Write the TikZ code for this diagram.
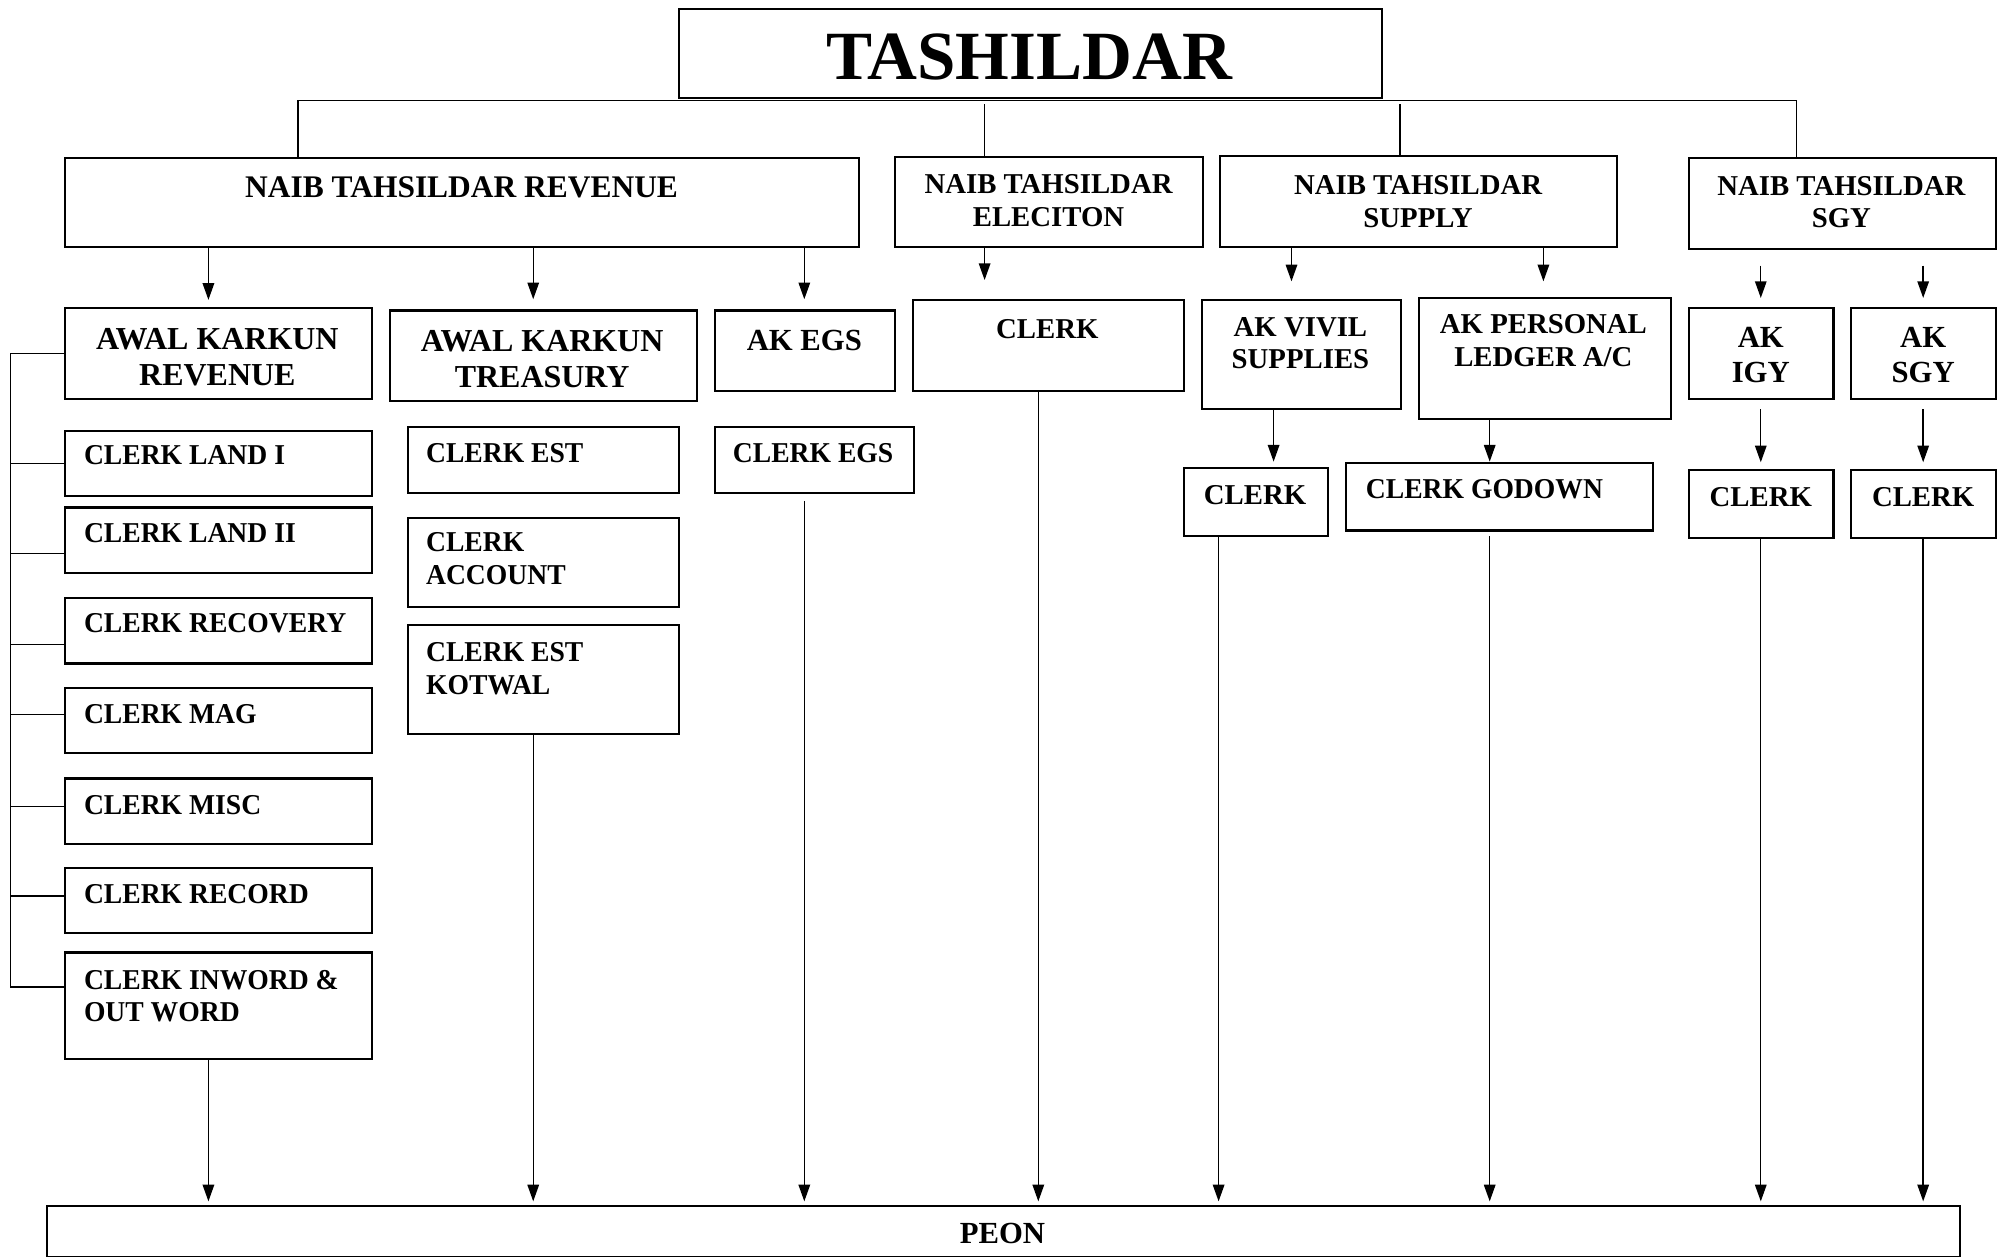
\documentclass[tikz,border=0pt]{standalone}
\usepackage{fontspec}
\setmainfont{Liberation Serif}
\newfontfamily\clfont[FakeStretch=0.96]{Liberation Serif}
\usetikzlibrary{arrows.meta}
\tikzset{
  bx/.style={draw, line width=1.7pt, inner sep=0pt, anchor=north west},
  tx/.style={inner sep=0pt, font=\fontsize{22.5}{25.5}\selectfont\bfseries},
  txl/.style={inner sep=0pt, font=\fontsize{22.5}{25.5}\selectfont\clfont\bfseries},
  txb/.style={inner sep=0pt, font=\fontsize{24}{27.5}\selectfont\bfseries},
  txw/.style={inner sep=0pt, font=\fontsize{25}{27.5}\selectfont\bfseries},
  ctr/.style={anchor=north, align=center},
  lft/.style={anchor=north west, align=left},
  ln/.style={line width=1.1pt},
  arr/.style={line width=1.1pt, -{Triangle[length=13pt,width=9pt]}},
}
\newcommand\mkbox[5]{\node[bx, minimum width=#4-#2, minimum height=#5-#3] (#1) at (#2,#3) {};}
\begin{document}
\begin{tikzpicture}[x=1pt,y=-1pt]
\useasboundingbox (0,0) rectangle (1568,983);
% boxes
\mkbox{tash}{530}{6}{1080}{76}
\mkbox{ntrev}{50}{123}{671}{192}
\mkbox{ntel}{699}{122}{940}{192}
\mkbox{ntsup}{953}{121}{1264}{192}
\mkbox{ntsgy}{1320}{123}{1560}{194}
\mkbox{akrev}{50}{240}{290}{311}
\mkbox{aktre}{304}{242}{544}{313}
\mkbox{akegs}{558}{242}{699}{305}
\mkbox{clel}{713}{234}{925}{305}
\mkbox{akviv}{939}{234}{1095}{319}
\mkbox{akper}{1109}{232}{1306}{327}
\mkbox{akigy}{1320}{240}{1433}{311}
\mkbox{aksgy}{1447}{240}{1560}{311}
\mkbox{cla}{50}{336}{290}{387}
\mkbox{clb}{50}{396}{290}{447}
\mkbox{clc}{50}{467}{290}{518}
\mkbox{cld}{50}{537}{290}{588}
\mkbox{cle}{50}{608}{290}{659}
\mkbox{clf}{50}{678}{290}{729}
\mkbox{clg}{50}{744}{290}{827}
\mkbox{cea}{318}{333}{530}{385}
\mkbox{ceb}{318}{404}{530}{474}
\mkbox{cec}{318}{488}{530}{573}
\mkbox{cegs}{558}{333}{714}{385}
\mkbox{clviv}{925}{365}{1038}{418}
\mkbox{clgod}{1052}{361}{1292}{414}
\mkbox{cligy}{1320}{367}{1433}{420}
\mkbox{clsgy}{1447}{367}{1560}{420}
\mkbox{peon}{36}{942}{1532}{982}
% texts
\node[inner sep=0pt, anchor=north, font=\fontsize{54}{60}\selectfont\bfseries] (ttash) at (805,26) {TASHILDAR};
\node[inner sep=0pt, anchor=north, font=\fontsize{24.6}{28}\selectfont\bfseries] (tntrev) at (361,138) {NAIB TAHSILDAR REVENUE};
\node[tx,ctr] (tntel) at (820,136.5) {NAIB TAHSILDAR\\ELECITON};
\node[tx,ctr] (tntsup) at (1109,137) {NAIB TAHSILDAR\\SUPPLY};
\node[tx,ctr] (tntsgy) at (1440,137.5) {NAIB TAHSILDAR\\SGY};
\node[txw,ctr] (takrev) at (170,257) {AWAL KARKUN\\REVENUE};
\node[txw,ctr] (taktre) at (424,258.5) {AWAL KARKUN\\TREASURY};
\node[txb,ctr] (takegs) at (629,258) {AK EGS};
\node[tx,ctr] (tclel) at (819,249.5) {CLERK};
\node[tx,ctr] (takviv) at (1017,248) {AK VIVIL\\SUPPLIES};
\node[tx,ctr] (takper) at (1207,246) {AK PERSONAL\\LEDGER A/C};
\node[txb,ctr] (takigy) at (1377,255.5) {AK\\IGY};
\node[txb,ctr] (taksgy) at (1504,255.5) {AK\\SGY};
\node[txl,lft] (tcla) at (65.5,348) {CLERK LAND I};
\node[txl,lft] (tclb) at (65.5,409.5) {CLERK LAND II};
\node[txl,lft] (tclc) at (65.5,479.5) {CLERK RECOVERY};
\node[txl,lft] (tcld) at (65.5,550.5) {CLERK MAG};
\node[txl,lft] (tcle) at (65.5,621.5) {CLERK MISC};
\node[txl,lft] (tclf) at (65.5,691.5) {CLERK RECORD};
\node[txl,lft] (tclg) at (65.5,758.5) {CLERK INWORD \&\\OUT WORD};
\node[txl,lft] (tcea) at (333,346.5) {CLERK EST};
\node[txl,lft] (tceb) at (333,416.5) {CLERK\\ACCOUNT};
\node[txl,lft] (tcec) at (333,502.5) {CLERK EST\\KOTWAL};
\node[txl,lft] (tcegs) at (573,346.5) {CLERK EGS};
\node[tx,ctr] (tclviv) at (981.5,379.5) {CLERK};
\node[txl,lft] (tclgod) at (1068,374.5) {CLERK GODOWN};
\node[tx,ctr] (tcligy) at (1377,381) {CLERK};
\node[tx,ctr] (tclsgy) at (1504,381) {CLERK};
\node[txb,anchor=north] (tpeon) at (784,956) {PEON};
% helper coordinates
\coordinate (busL) at (233,78.7);
\coordinate (busR) at (1405,78.7);
\coordinate (xEl) at (770,81.5);
\coordinate (xSup) at (1095,81.5);
\coordinate (xBr) at (8,0);
\coordinate (xA) at (163,0);
\coordinate (xB) at (417,0);
\coordinate (xC) at (629,0);
\coordinate (xD) at (770,0);
\coordinate (xE) at (1010,0);
\coordinate (xF) at (1207,0);
\coordinate (xG) at (1377,0);
\coordinate (xH) at (1504,0);
\coordinate (xI) at (812,0);
\coordinate (xJ) at (953,0);
\coordinate (xK) at (1165,0);
\coordinate (xL) at (996,0);
% bus from Tashildar
\draw[ln] (ntrev.north -| busL) -- (busL) -- (busR) -- (ntsgy.north -| busR);
\draw[ln] (xEl) -- (ntel.north -| xEl);
\draw[ln] (xSup) -- (ntsup.north -| xSup);
% level 2 to level 3
\draw[arr, shorten >=5.5pt] (ntrev.south -| xA) -- (akrev.north -| xA);
\draw[arr, shorten >=8pt] (ntrev.south -| xB) -- (aktre.north -| xB);
\draw[arr, shorten >=8pt] (ntrev.south -| xC) -- (akegs.north -| xC);
\draw[arr, shorten >=15pt] (ntel.south -| xD) -- (clel.north -| xD);
\draw[arr, shorten >=14pt] (ntsup.south -| xE) -- (akviv.north -| xE);
\draw[arr, shorten >=12pt] (ntsup.south -| xF) -- (akper.north -| xF);
\draw[arr, shorten <=12pt, shorten >=7pt] (ntsgy.south -| xG) -- (akigy.north -| xG);
\draw[arr, shorten <=12pt, shorten >=7pt] (ntsgy.south -| xH) -- (aksgy.north -| xH);
% level 3 to level 4
\draw[arr, shorten >=4pt] (akviv.south -| xL) -- (clviv.north -| xL);
\draw[arr] (akper.south -| xK) -- (clgod.north -| xK);
\draw[arr, shorten <=7.5pt, shorten >=5.5pt] (akigy.south -| xG) -- (cligy.north -| xG);
\draw[arr, shorten <=7.5pt, shorten >=5.5pt] (aksgy.south -| xH) -- (clsgy.north -| xH);
% bracket
\draw[ln] (akrev.west) -- (akrev.west -| xBr) -- ([yshift=14.5pt]clg.west -| xBr) -- ([yshift=14.5pt]clg.west);
\draw[ln] (cla.west) -- (cla.west -| xBr);
\draw[ln] ([yshift=-10.5pt]clb.west) -- ([yshift=-10.5pt]clb.west -| xBr);
\draw[ln] ([yshift=-10.5pt]clc.west) -- ([yshift=-10.5pt]clc.west -| xBr);
\draw[ln] ([yshift=4.5pt]cld.west) -- ([yshift=4.5pt]cld.west -| xBr);
\draw[ln] ([yshift=3.5pt]cle.west) -- ([yshift=3.5pt]cle.west -| xBr);
\draw[ln] ([yshift=3.5pt]clf.west) -- ([yshift=3.5pt]clf.west -| xBr);
% to PEON
\draw[arr, shorten >=2.5pt] (clg.south -| xA) -- (peon.north -| xA);
\draw[arr, shorten >=2.5pt] (cec.south -| xB) -- (peon.north -| xB);
\draw[arr, shorten <=5pt, shorten >=2.5pt] (cegs.south -| xC) -- (peon.north -| xC);
\draw[arr, shorten >=2.5pt] (clel.south -| xI) -- (peon.north -| xI);
\draw[arr, shorten >=2.5pt] (clviv.south -| xJ) -- (peon.north -| xJ);
\draw[arr, shorten <=3.5pt, shorten >=2.5pt] (clgod.south -| xK) -- (peon.north -| xK);
\draw[arr, shorten >=2.5pt] (cligy.south -| xG) -- (peon.north -| xG);
\draw[arr, shorten >=2.5pt] (clsgy.south -| xH) -- (peon.north -| xH);
\end{tikzpicture}
\end{document}
